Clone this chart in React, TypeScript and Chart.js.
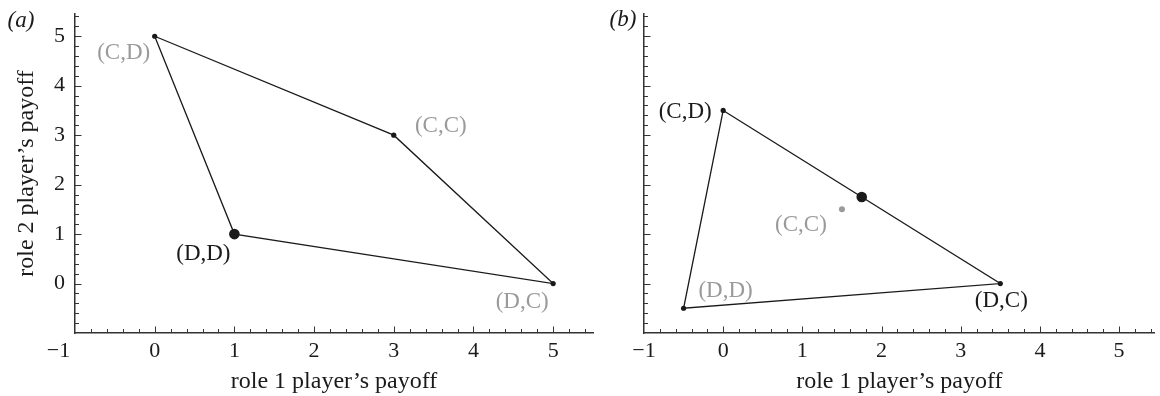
import React, { useEffect, useRef } from 'react';
import { Chart, registerables } from 'chart.js';

Chart.register(...registerables);

// ---- data ----
const outcomeLabels = ['(C,D)', '(C,C)', '(D,C)', '(D,D)'];

// panel (a)
const role1PayoffA = [0, 3, 5, 1];
const role2PayoffA = [5, 3, 0, 1];
const hullOrderA = [0, 1, 2, 3, 0];
const vertexIdxA = [0, 1, 2];
const equilibriumA = [1, 1];
const interiorIdxA: number[] = [];

// panel (b)
const role1PayoffB = [0, 1.5, 3.5, -0.5];
const role2PayoffB = [3.5, 1.5, 0, -0.5];
const hullOrderB = [0, 2, 3, 0];
const vertexIdxB = [0, 2, 3];
const equilibriumB = [1.75, 1.75];
const interiorIdxB = [1];

// axes
const xRangeA = [-1, 5.5];
const xRangeB = [-1, 5.45];
const yRange = [-1, 5.45];
const xTickLabels = ['\u22121', '0', '1', '2', '3', '4', '5'];
const yTickLabels = ['0', '1', '2', '3', '4', '5'];
const xTitle = 'role 1 player\u2019s payoff';
const yTitle = 'role 2 player\u2019s payoff';

// ---- styles ----
const FONT = "'Liberation Serif', 'Times New Roman', serif";
const INK = '#1a1a1a';
const AXIS = '#333333';
const GRAY = '#9a9a9a';
const TICK_SIZE = 22;
const TITLE_SIZE = 24;
const LABEL_SIZE = 23;

const labelColorsA = [GRAY, GRAY, GRAY, INK];
const labelOffsetsA = [[-31, 17], [47, -9], [-31, 18], [-31, 20]];
const labelColorsB = [INK, GRAY, INK, GRAY];
const labelOffsetsB = [[-38, 2], [-41, 16], [1, 17], [42, -17]];

type PanelCfg = {
  tag: string;
  tagPos: number[];
  width: number;
  left: number;
  xRange: number[];
  yAxisWidth: number;
  padRight: number;
  showY: boolean;
  p1: number[];
  p2: number[];
  hull: number[];
  vertices: number[];
  eq: number[];
  interior: number[];
  labelColors: string[];
  labelOffsets: number[][];
  minusPad: string;
};

const isInt = (v: number) => Math.abs(v - Math.round(v)) < 1e-6;

const noPadding = (s: any) => {
  s.paddingLeft = 0;
  s.paddingRight = 0;
  s.paddingTop = 0;
  s.paddingBottom = 0;
};

function makeDecor(cfg: PanelCfg) {
  return {
    id: 'decor',
    afterDraw(chart: any) {
      const ctx = chart.ctx;
      const xs = chart.scales.x;
      const ys = chart.scales.y;
      const area = chart.chartArea;
      ctx.save();
      ctx.strokeStyle = AXIS;
      ctx.lineWidth = 1;
      for (const t of xs.ticks) {
        const v = t.value;
        if (v <= xs.min + 1e-6) continue;
        const len = isInt(v) ? 6.5 : 4;
        const px = Math.round(xs.getPixelForValue(v)) + 0.5;
        ctx.beginPath();
        ctx.moveTo(px, area.bottom);
        ctx.lineTo(px, area.bottom - len);
        ctx.stroke();
      }
      for (const t of ys.ticks) {
        const v = t.value;
        if (v <= ys.min + 1e-6) continue;
        const len = isInt(v) ? 6.5 : 4;
        const py = Math.round(ys.getPixelForValue(v)) + 0.5;
        ctx.beginPath();
        ctx.moveTo(area.left, py);
        ctx.lineTo(area.left + len, py);
        ctx.stroke();
      }
      // outcome labels
      ctx.font = `${LABEL_SIZE}px ${FONT}`;
      ctx.textAlign = 'center';
      ctx.textBaseline = 'middle';
      outcomeLabels.forEach((lab, i) => {
        const px = xs.getPixelForValue(cfg.p1[i]) + cfg.labelOffsets[i][0];
        const py = ys.getPixelForValue(cfg.p2[i]) + cfg.labelOffsets[i][1];
        ctx.fillStyle = cfg.labelColors[i];
        ctx.fillText(lab, px, py);
      });
      // panel tag
      ctx.font = `italic ${LABEL_SIZE}px ${FONT}`;
      ctx.fillStyle = INK;
      ctx.fillText(cfg.tag, cfg.tagPos[0], cfg.tagPos[1]);
      ctx.restore();
    },
  };
}

function Panel({ cfg }: { cfg: PanelCfg }) {
  const ref = useRef<HTMLCanvasElement | null>(null);
  useEffect(() => {
    if (!ref.current) return;
    const pt = (i: number) => ({ x: cfg.p1[i], y: cfg.p2[i] });
    const chart = new Chart(ref.current, {
      type: 'scatter',
      data: {
        datasets: [
          {
            data: cfg.hull.map(pt),
            showLine: true,
            borderColor: INK,
            borderWidth: 1.3,
            pointRadius: 0,
            fill: false,
            clip: false,
          } as any,
          {
            data: cfg.vertices.map(pt),
            pointRadius: 2.6,
            backgroundColor: INK,
            borderWidth: 0,
            clip: false,
          },
          {
            data: cfg.interior.map(pt),
            pointRadius: 3,
            backgroundColor: GRAY,
            borderWidth: 0,
            clip: false,
          },
          {
            data: [{ x: cfg.eq[0], y: cfg.eq[1] }],
            pointRadius: 5.3,
            backgroundColor: INK,
            borderWidth: 0,
            clip: false,
          },
        ],
      },
      options: {
        animation: false,
        responsive: false,
        events: [],
        layout: { padding: { top: 14, right: cfg.padRight, bottom: 0, left: 0 } },
        plugins: { legend: { display: false }, tooltip: { enabled: false } },
        scales: {
          x: {
            type: 'linear',
            position: 'bottom',
            min: cfg.xRange[0],
            max: cfg.xRange[1],
            afterFit: (s: any) => {
              s.height = 63;
              noPadding(s);
            },
            border: { display: true, color: AXIS, width: 1.5 },
            grid: { display: true, drawOnChartArea: false, drawTicks: false },
            title: {
              display: true,
              text: xTitle,
              color: INK,
              font: { family: FONT, size: TITLE_SIZE },
              padding: { top: 0, bottom: 0 },
            },
            ticks: {
              stepSize: 0.2,
              autoSkip: false,
              includeBounds: false,
              maxRotation: 0,
              padding: 5,
              color: INK,
              font: { family: FONT, size: TICK_SIZE },
              callback: (v: any) => {
                const n = Number(v);
                if (!isInt(n)) return '';
                const lab = xTickLabels[Math.round(n) + 1] ?? '';
                return Math.round(n) === -1 ? lab + cfg.minusPad : lab;
              },
            },
          },
          y: {
            type: 'linear',
            position: 'left',
            min: yRange[0],
            max: yRange[1],
            afterFit: (s: any) => {
              s.width = cfg.yAxisWidth;
              noPadding(s);
            },
            border: { display: true, color: AXIS, width: 1.5 },
            grid: { display: true, drawOnChartArea: false, drawTicks: false },
            title: {
              display: cfg.showY,
              text: yTitle,
              color: INK,
              font: { family: FONT, size: TITLE_SIZE },
              padding: { top: 12, bottom: 0 },
            },
            ticks: {
              stepSize: 0.2,
              autoSkip: false,
              includeBounds: false,
              padding: 10,
              color: INK,
              font: { family: FONT, size: TICK_SIZE },
              callback: (v: any) => {
                const n = Number(v);
                if (!cfg.showY || !isInt(n) || n < 0) return '';
                return yTickLabels[Math.round(n)] ?? '';
              },
            },
          },
        },
      },
      plugins: [makeDecor(cfg)],
    } as any);
    return () => chart.destroy();
  }, [cfg]);
  return (
    <canvas
      ref={ref}
      width={cfg.width}
      height={396}
      style={{ position: 'absolute', left: cfg.left, top: 0, width: cfg.width, height: 396 }}
    />
  );
}

const panelA: PanelCfg = {
  tag: '(a)',
  tagPos: [21, 21],
  width: 600,
  left: 0,
  xRange: xRangeA,
  yAxisWidth: 75,
  padRight: 7,
  showY: true,
  p1: role1PayoffA,
  p2: role2PayoffA,
  hull: hullOrderA,
  vertices: vertexIdxA,
  eq: equilibriumA,
  interior: interiorIdxA,
  labelColors: labelColorsA,
  labelOffsets: labelOffsetsA,
  minusPad: '      ',
};

const panelB: PanelCfg = {
  tag: '(b)',
  tagPos: [23, 20],
  width: 560,
  left: 600,
  xRange: xRangeB,
  yAxisWidth: 44,
  padRight: 0,
  showY: false,
  p1: role1PayoffB,
  p2: role2PayoffB,
  hull: hullOrderB,
  vertices: vertexIdxB,
  eq: equilibriumB,
  interior: interiorIdxB,
  labelColors: labelColorsB,
  labelOffsets: labelOffsetsB,
  minusPad: '',
};

export default function App() {
  return (
    <div style={{ position: 'fixed', left: 0, top: 0, width: 1160, height: 396, background: '#fff', overflow: 'hidden' }}>
      <Panel cfg={panelA} />
      <Panel cfg={panelB} />
    </div>
  );
}
